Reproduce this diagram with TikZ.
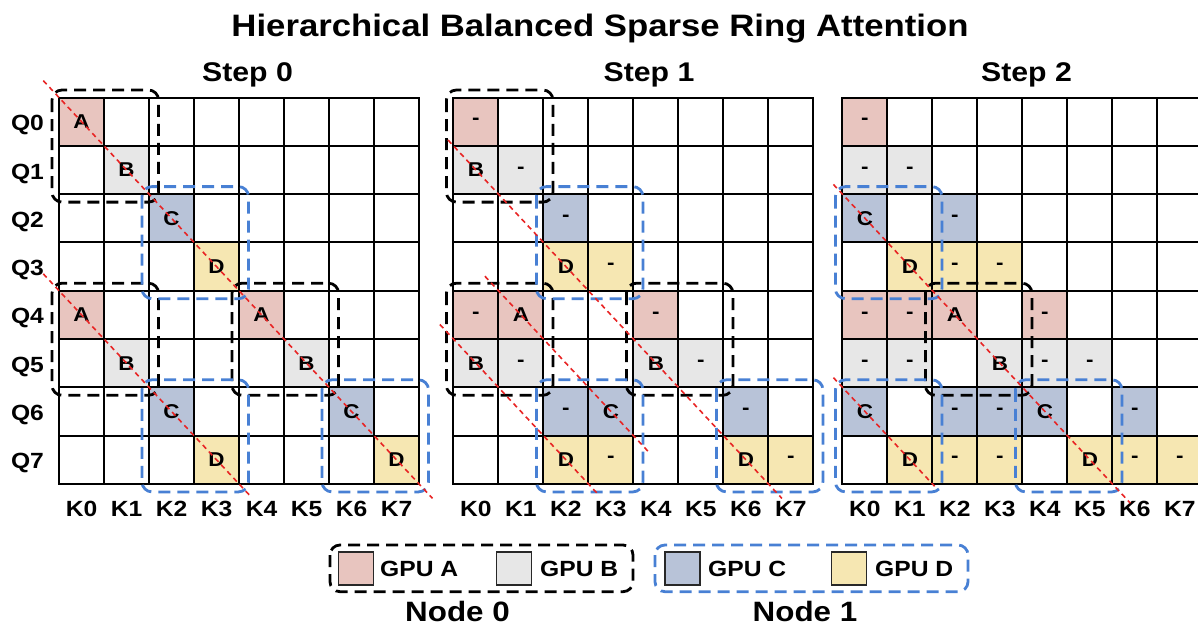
\documentclass[tikz,border=0pt]{standalone}
\usepackage{fontspec}
\setmainfont{Liberation Sans}[FakeStretch=1.12]

\definecolor{gpuA}{RGB}{232,197,191}
\definecolor{gpuB}{RGB}{231,231,231}
\definecolor{gpuC}{RGB}{184,195,216}
\definecolor{gpuD}{RGB}{246,231,178}
\definecolor{nodeblue}{RGB}{72,128,212}
\definecolor{diagred}{RGB}{232,36,36}
\definecolor{swatchline}{RGB}{40,40,40}

\tikzset{
  cellbox/.style={minimum width=45pt, minimum height=48.3pt, inner sep=0pt, outer sep=0pt,
    font=\bfseries\fontsize{20}{20}\selectfont},
  gridline/.style={line width=2pt, line cap=rect, black},
  nodezero/.style={draw=black, line width=2.8pt, dash pattern=on 12pt off 7pt, rounded corners=10pt},
  nodeone/.style={draw=nodeblue, line width=2.8pt, dash pattern=on 12pt off 7pt, rounded corners=10pt},
  diag/.style={draw=diagred, line width=1.6pt, dash pattern=on 5pt off 4pt},
  axislabel/.style={anchor=base, inner sep=0pt, font=\bfseries\fontsize{22}{22}\selectfont},
  steplabel/.style={anchor=base, inner sep=0pt, font=\bfseries\fontsize{27}{27}\selectfont},
  titlelabel/.style={anchor=base, inner sep=0pt, font=\bfseries\fontsize{31}{31}\selectfont},
  swatch/.style={draw=swatchline, line width=1.5pt, minimum width=35pt, minimum height=33pt, inner sep=0pt},
  legendtext/.style={anchor=base west, inner sep=0pt, font=\bfseries\fontsize{22}{22}\selectfont},
  nodelabel/.style={anchor=base, inner sep=0pt, font=\bfseries\fontsize{28}{28}\selectfont},
}

% one coloured cell of the attention grid: prefix, column, row, colour, text
\newcommand{\attcell}[5]{\node[cellbox, fill=#4] (#1-#2-#3) at ({45*#2+22.5},{48.3*#3+24.15}) {#5};}
% dashed frame round a 2x2 block: style, first column, first row
\newcommand{\gpubox}[3]{\draw[#1] ({45*#2-7},{48.3*#3-7.5}) rectangle ({45*#2+99.5},{48.3*#3+104.6});}
% red diagonal r = c + offset: offset, start column, end column
\newcommand{\diagline}[3]{\draw[diag] ({45*#2},{48.3*(#2+#1)}) -- ({45*#3},{48.3*(#3+#1)});}
% 8x8 grid with its key labels
\newcommand{\attgrid}[1]{%
  \foreach \i in {0,...,8} {
    \draw[gridline] ({45*\i},0) -- ({45*\i},386.4);
    \draw[gridline] (0,{48.3*\i}) -- (360,{48.3*\i});
  }
  \foreach \i in {0,...,7} {
    \node[axislabel] (#1-k\i) at ({45*\i+22.5},419.2) {K\i};
  }
}

\begin{document}
\begin{tikzpicture}[x=1pt,y=-1pt]
\fill[white] (0,0) rectangle (1198,626);
\useasboundingbox (0,0) rectangle (1198,626);

\node[titlelabel] (title) at (600,36.7) {Hierarchical Balanced Sparse Ring Attention};
\node[steplabel] (step0) at (247.5,81.7) {Step 0};
\node[steplabel] (step1) at (649,81.7) {Step 1};
\node[steplabel] (step2) at (1026.5,81.7) {Step 2};

% ---------------- Step 0 ----------------
\begin{scope}[shift={(59,97.5)}]
  \attcell{s0}{0}{0}{gpuA}{A} \attcell{s0}{0}{4}{gpuA}{A} \attcell{s0}{4}{4}{gpuA}{A}
  \attcell{s0}{1}{1}{gpuB}{B} \attcell{s0}{1}{5}{gpuB}{B} \attcell{s0}{5}{5}{gpuB}{B}
  \attcell{s0}{2}{2}{gpuC}{C} \attcell{s0}{2}{6}{gpuC}{C} \attcell{s0}{6}{6}{gpuC}{C}
  \attcell{s0}{3}{3}{gpuD}{D} \attcell{s0}{3}{7}{gpuD}{D} \attcell{s0}{7}{7}{gpuD}{D}
  \attgrid{s0}
  \foreach \i in {0,...,7} {
    \node[axislabel] (q\i) at (-31.5,{48.3*\i+33.2}) {Q\i};
  }
  \gpubox{nodezero}{0}{0} \gpubox{nodezero}{0}{4} \gpubox{nodezero}{4}{4}
  \gpubox{nodeone}{2}{2} \gpubox{nodeone}{2}{6} \gpubox{nodeone}{6}{6}
  \diagline{0}{-0.35}{8.3}
  \diagline{4}{-0.35}{4.25}
\end{scope}

% ---------------- Step 1 ----------------
\begin{scope}[shift={(453.4,97.5)}]
  \attcell{s1}{0}{0}{gpuA}{-} \attcell{s1}{0}{4}{gpuA}{-} \attcell{s1}{1}{4}{gpuA}{A} \attcell{s1}{4}{4}{gpuA}{-}
  \attcell{s1}{0}{1}{gpuB}{B} \attcell{s1}{1}{1}{gpuB}{-} \attcell{s1}{0}{5}{gpuB}{B} \attcell{s1}{1}{5}{gpuB}{-}
  \attcell{s1}{4}{5}{gpuB}{B} \attcell{s1}{5}{5}{gpuB}{-}
  \attcell{s1}{2}{2}{gpuC}{-} \attcell{s1}{2}{6}{gpuC}{-} \attcell{s1}{3}{6}{gpuC}{C} \attcell{s1}{6}{6}{gpuC}{-}
  \attcell{s1}{2}{3}{gpuD}{D} \attcell{s1}{3}{3}{gpuD}{-} \attcell{s1}{2}{7}{gpuD}{D} \attcell{s1}{3}{7}{gpuD}{-}
  \attcell{s1}{6}{7}{gpuD}{D} \attcell{s1}{7}{7}{gpuD}{-}
  \attgrid{s1}
  \gpubox{nodezero}{0}{0} \gpubox{nodezero}{0}{4} \gpubox{nodezero}{4}{4}
  \gpubox{nodeone}{2}{2} \gpubox{nodeone}{2}{6} \gpubox{nodeone}{6}{6}
  \diagline{1}{-0.12}{7.3}
  \diagline{3}{0.7}{4.36}
  \diagline{5}{-0.3}{3.2}
\end{scope}

% ---------------- Step 2 ----------------
\begin{scope}[shift={(842.4,97.5)}]
  \attcell{s2}{0}{0}{gpuA}{-} \attcell{s2}{0}{4}{gpuA}{-} \attcell{s2}{1}{4}{gpuA}{-} \attcell{s2}{2}{4}{gpuA}{A}
  \attcell{s2}{4}{4}{gpuA}{-}
  \attcell{s2}{0}{1}{gpuB}{-} \attcell{s2}{1}{1}{gpuB}{-} \attcell{s2}{0}{5}{gpuB}{-} \attcell{s2}{1}{5}{gpuB}{-}
  \attcell{s2}{3}{5}{gpuB}{B} \attcell{s2}{4}{5}{gpuB}{-} \attcell{s2}{5}{5}{gpuB}{-}
  \attcell{s2}{0}{2}{gpuC}{C} \attcell{s2}{2}{2}{gpuC}{-} \attcell{s2}{0}{6}{gpuC}{C} \attcell{s2}{2}{6}{gpuC}{-}
  \attcell{s2}{3}{6}{gpuC}{-} \attcell{s2}{4}{6}{gpuC}{C} \attcell{s2}{6}{6}{gpuC}{-}
  \attcell{s2}{1}{3}{gpuD}{D} \attcell{s2}{2}{3}{gpuD}{-} \attcell{s2}{3}{3}{gpuD}{-}
  \attcell{s2}{1}{7}{gpuD}{D} \attcell{s2}{2}{7}{gpuD}{-} \attcell{s2}{3}{7}{gpuD}{-}
  \attcell{s2}{5}{7}{gpuD}{D} \attcell{s2}{6}{7}{gpuD}{-} \attcell{s2}{7}{7}{gpuD}{-}
  \attgrid{s2}
  \gpubox{nodeone}{0}{2} \gpubox{nodezero}{2}{4}
  \gpubox{nodeone}{0}{6} \gpubox{nodeone}{4}{6}
  \diagline{2}{-0.2}{6.4}
  \diagline{6}{-0.2}{2.05}
\end{scope}

% ---------------- Legend ----------------
\draw[nodezero] (330,545) rectangle (633,591.7);
\draw[nodeone] (655,545) rectangle (968,591.7);
\node[swatch, fill=gpuA] (swA) at (355.8,568.3) {};
\node[swatch, fill=gpuB] (swB) at (514.2,568.3) {};
\node[swatch, fill=gpuC] (swC) at (682.5,568.3) {};
\node[swatch, fill=gpuD] (swD) at (849.2,568.3) {};
\node[legendtext] (txA) at (380,576.7) {GPU A};
\node[legendtext] (txB) at (540,576.7) {GPU B};
\node[legendtext] (txC) at (708,576.7) {GPU C};
\node[legendtext] (txD) at (875,576.7) {GPU D};
\node[nodelabel] (node0) at (457.5,621.5) {Node 0};
\node[nodelabel] (node1) at (805,621.5) {Node 1};
\end{tikzpicture}
\end{document}
